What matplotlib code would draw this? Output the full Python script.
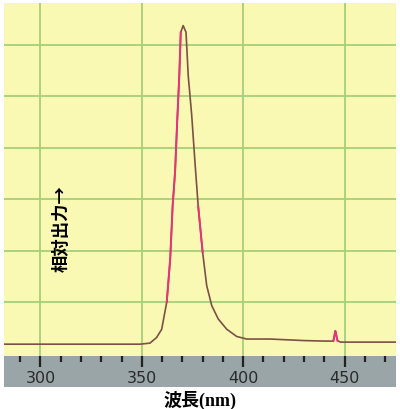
import numpy as np
import matplotlib
matplotlib.use('Agg')
import matplotlib.pyplot as plt

# emission spectrum (wavelength nm, relative output in grid units)
wavelength = [282, 300, 320, 340, 349.1, 354.0, 357.3, 359.8, 361.4, 362.3, 364.0,
              365.2, 366.4, 367.5, 368.5, 369.2, 370.4, 371.8, 372.9, 374.6,
              376.2, 377.8, 380.0, 382.0, 384.5, 387.7, 391.9, 396.8, 401.7,
              413.2, 430, 440, 444.5, 445.5, 446.5, 448, 460, 476]
intensity = [0.18, 0.18, 0.18, 0.18, 0.18, 0.20, 0.31, 0.47, 0.81, 1.00, 1.84,
             2.87, 3.53, 4.56, 5.42, 6.25, 6.38, 6.25, 5.40, 4.64,
             3.73, 2.87, 1.97, 1.32, 0.93, 0.67, 0.47, 0.33, 0.28,
             0.28, 0.25, 0.24, 0.24, 0.44, 0.25, 0.22, 0.22, 0.22]
major_ticks = [300, 350, 400, 450]
minor_ticks = list(range(290, 480, 10))
grid_levels = [1, 2, 3, 4, 5, 6]

XLABEL = "波長(nm)"
YLABEL = "相対出力→"

wl = np.array(wavelength)
inten = np.array(intensity)

fig = plt.figure(figsize=(4.0, 4.1), dpi=100)
fig.patch.set_facecolor("white")

# grey scale band under the plot
axb = fig.add_axes([0.01, 0.0537, 0.98, 0.0756])
axb.set_facecolor("#9aa5a8")
axb.set_xticks([]); axb.set_yticks([])
for s in axb.spines.values():
    s.set_visible(False)

ax = fig.add_axes([0.01, 0.1293, 0.98, 0.861])
ax.set_facecolor("#f9f9b3")
ax.set_xlim(282.0, 475.4)
ax.set_ylim(-0.05, 6.82)

for lv in grid_levels:
    ax.axhline(lv, color="#a6cf7a", lw=1.3, zorder=1)
for t in major_ticks:
    ax.axvline(t, color="#a6cf7a", lw=1.3, zorder=1)

ax.plot(wl, inten, color="#7d5046", lw=1.2, zorder=3, solid_joinstyle="round")
for lo, hi in [(362, 369.3), (377.8, 380.0), (444.5, 446.5)]:
    m = (wl >= lo) & (wl <= hi)
    ax.plot(wl[m], inten[m], color="#e8337a", lw=1.4, zorder=4)

ax.set_xticks(major_ticks)
ax.set_xticks(minor_ticks, minor=True)
ax.set_yticks([])
ax.tick_params(axis="x", which="major", direction="out", length=8, width=1.6,
               color="#222222", pad=2, labelsize=11.5, labelcolor="#2a2a2a")
ax.tick_params(axis="x", which="minor", direction="out", length=4.5, width=1.6,
               color="#222222")
for s in ax.spines.values():
    s.set_visible(False)

ax.text(0.148, 0.365, YLABEL, transform=ax.transAxes, rotation=90,
        ha="center", va="center", fontsize=12.5, fontweight="bold",
        family=["Noto Sans CJK JP", "DejaVu Sans"])
fig.text(0.5, 0.024, XLABEL, ha="center", va="center", fontsize=13,
         fontweight="bold", family=["Liberation Serif", "Noto Sans CJK JP"])

fig.savefig("out.png", dpi=100, facecolor="white")
